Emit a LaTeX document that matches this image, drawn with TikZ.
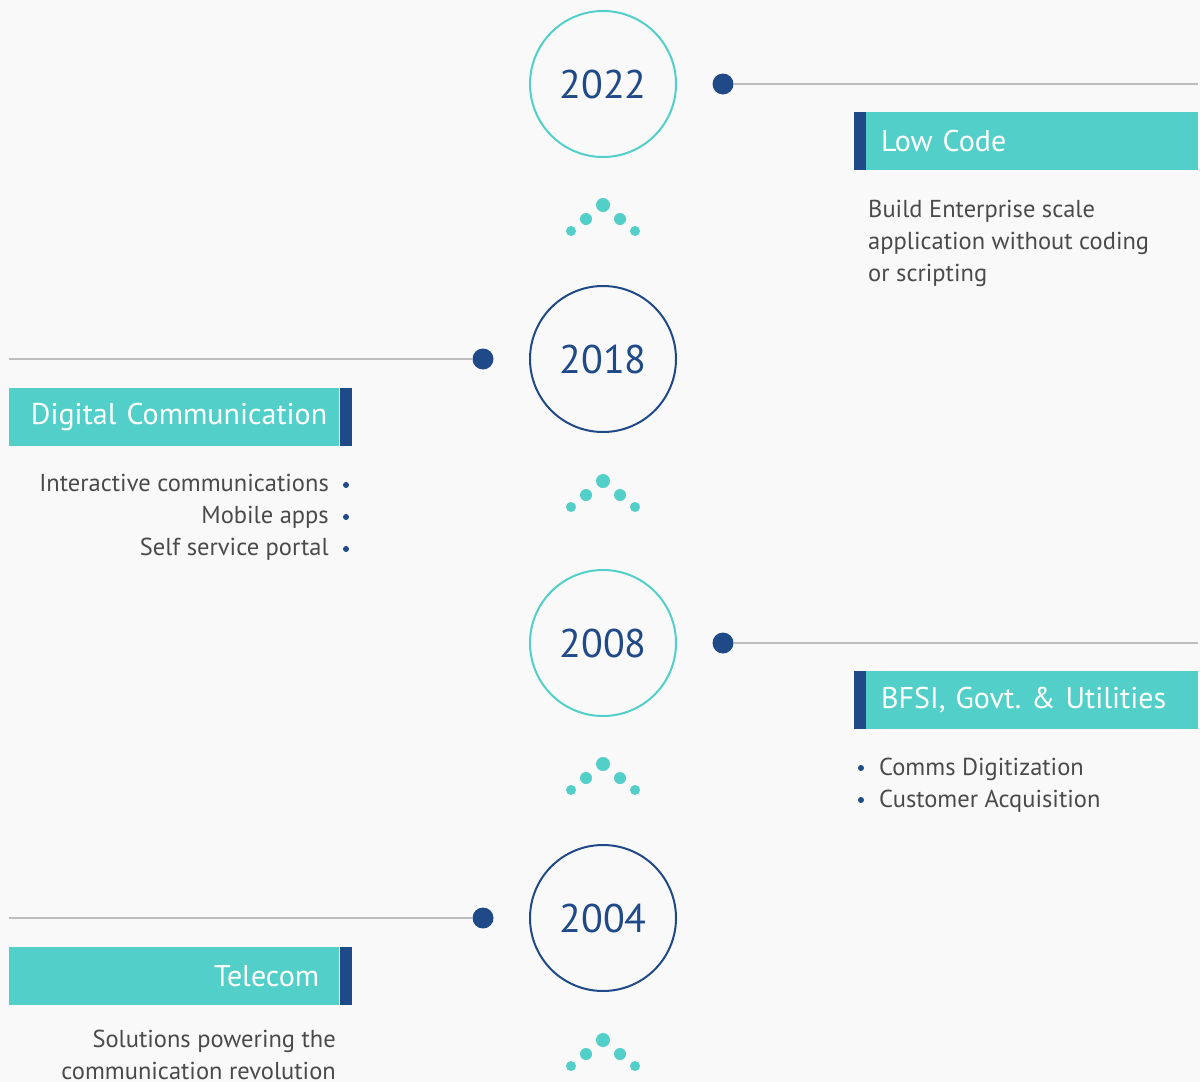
\documentclass[tikz,border=0pt]{standalone}
\usepackage{fontspec}
\setmainfont{PT Sans}
\frenchspacing
\definecolor{tealc}{HTML}{52CFC8}
\definecolor{navyc}{HTML}{1F4A87}
\definecolor{rulec}{HTML}{BDBDBD}
\definecolor{bodyc}{HTML}{4A4A4A}
\definecolor{bgc}{HTML}{F9F9FA}

\begin{document}
\begin{tikzpicture}[x=1pt, y=-1pt,
    year/.style={draw, circle, line width=2pt, minimum size=146pt, inner sep=0pt, text=navyc, font=\fontsize{40}{42}\selectfont},
    knob/.style={circle, fill=navyc, minimum size=21pt, inner sep=0pt},
    rule/.style={draw=rulec, line width=1.2pt},
    hbox/.style={fill=tealc, minimum height=58pt, inner ysep=0pt, text=white, font=\fontsize{30}{32}\selectfont},
    hbar/.style={fill=navyc, minimum width=12pt, minimum height=58pt, inner sep=0pt},
    body/.style={text=bodyc, inner sep=0pt, font=\fontsize{24.5}{32}\selectfont},
    bullet/.style={circle, fill=navyc, minimum size=6pt, inner sep=0pt},
    sdot/.style={circle, fill=tealc, inner sep=0pt}]

    \clip (0,0) rectangle (1200,1082);
    \fill[bgc] (0,0) rectangle (1200,1082);

    % years
    \node[year, draw=tealc] (y22) at (603,84) {2022};
    \node[year, draw=navyc] (y18) at (603,359) {2018};
    \node[year, draw=tealc] (y08) at (603,643) {2008};
    \node[year, draw=navyc] (y04) at (603,918) {2004};

    % dots below each year
    \foreach \t in {205,481,764,1040} {
        \node[sdot, minimum size=14pt] (s\t a) at (603,\t) {};
        \node[sdot, minimum size=12pt] (s\t b) at (586,\t+14) {};
        \node[sdot, minimum size=12pt] (s\t c) at (620,\t+14) {};
        \node[sdot, minimum size=10pt] (s\t d) at (571,\t+26) {};
        \node[sdot, minimum size=10pt] (s\t e) at (635,\t+26) {};
    }

    % 2022
    \node[knob] (k22) at (723,84) {};
    \coordinate (e22) at (1198,84);
    \draw[rule] (k22) -- (e22);
    \node[hbox, anchor=north west, inner xsep=15pt, text width=302pt, align=left] (h22) at (866,112) {Low Code};
    \node[hbar, anchor=north east] (r22) at (h22.north west) {};
    \node[body, anchor=north west, align=left] (d22) at (868,200) {Build Enterprise scale\\application without coding\\or scripting};

    % 2018
    \node[knob] (k18) at (483,359) {};
    \coordinate (e18) at (9,359);
    \draw[rule] (k18) -- (e18);
    \node[hbox, anchor=north west, inner xsep=12pt, text width=306pt, align=right] (h18) at (9,388) {Digital Communication};
    \node[hbar, anchor=north west] (r18) at (h18.north east) {};
    \node[body, anchor=base east] (i18a) at (329,491) {Interactive communications};
    \node[body, anchor=base east] (i18b) at (329,523) {Mobile apps};
    \node[body, anchor=base east] (i18c) at (329,555) {Self service portal};
    \node[bullet] (b18a) at (346,485) {};
    \node[bullet] (b18b) at (346,517) {};
    \node[bullet] (b18c) at (346,549) {};

    % 2008
    \node[knob] (k08) at (723,643) {};
    \coordinate (e08) at (1198,643);
    \draw[rule] (k08) -- (e08);
    \node[hbox, anchor=north west, inner xsep=15pt, text width=302pt, align=left] (h08) at (866,671) {BFSI, Govt. \& Utilities};
    \node[hbar, anchor=north east] (r08) at (h08.north west) {};
    \node[bullet] (b08a) at (861,768) {};
    \node[bullet] (b08b) at (861,800) {};
    \node[body, anchor=base west] (i08a) at (879,775) {Comms Digitization};
    \node[body, anchor=base west] (i08b) at (879,807) {Customer Acquisition};

    % 2004
    \node[knob] (k04) at (483,918) {};
    \coordinate (e04) at (9,918);
    \draw[rule] (k04) -- (e04);
    \node[hbox, anchor=north west, inner xsep=20pt, text width=290pt, align=right] (h04) at (9,947) {Telecom};
    \node[hbar, anchor=north west] (r04) at (h04.north east) {};
    \node[body, anchor=north east, align=right] (d04) at (336,1030) {Solutions powering the\\communication revolution};
\end{tikzpicture}
\end{document}
